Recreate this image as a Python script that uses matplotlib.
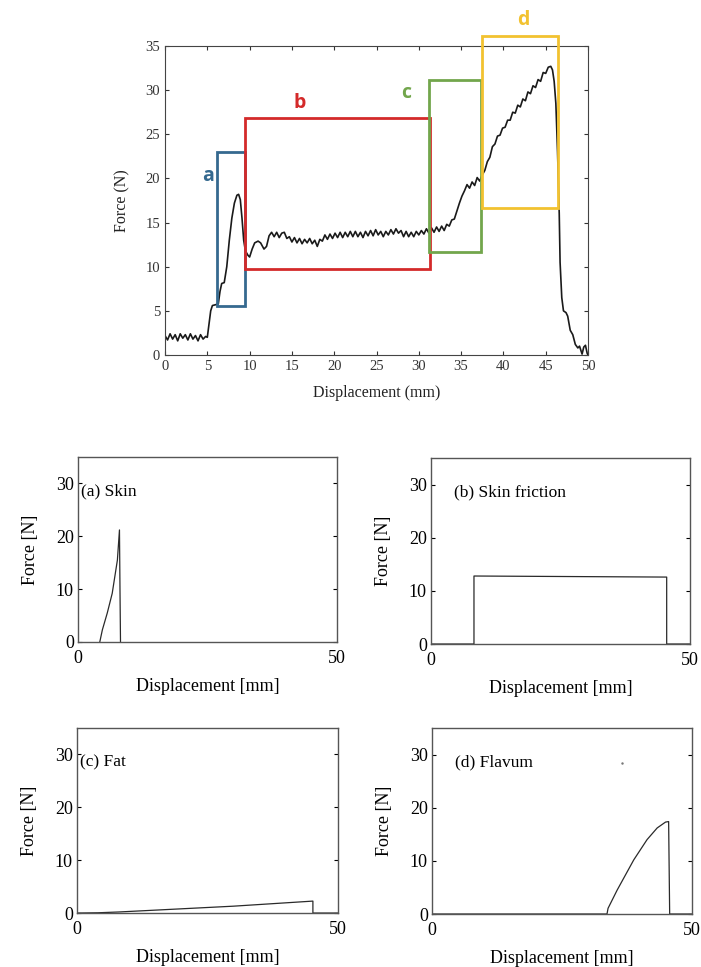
import matplotlib.pyplot as plt
from matplotlib.patches import Rectangle

plt.rcParams['font.family'] = ['Liberation Serif', 'DejaVu Serif']

# curva completa (arriba)
desp = [0, 0.3, 0.6, 0.9, 1.2, 1.5, 1.8, 2.1, 2.4, 2.7, 3.0, 3.3, 3.6, 3.9, 4.2, 4.5, 4.8,
        5.0, 5.2, 5.4, 5.6, 6.0, 6.3, 6.5, 6.7, 7.0, 7.3, 7.6, 7.9, 8.2, 8.5, 8.7, 8.9,
        9.1, 9.3, 9.5, 9.8, 10.0, 10.3, 10.6, 11.0, 11.3, 11.7, 12.0, 12.3, 12.6, 12.9,
        13.2, 13.5, 13.8, 14.1, 14.4, 14.7, 15.0, 15.3, 15.6, 15.9, 16.2, 16.5, 16.8,
        17.1, 17.4, 17.7, 18.0, 18.3, 18.6, 18.9, 19.2, 19.5, 19.8, 20.1, 20.4, 20.7,
        21.0, 21.3, 21.6, 21.9, 22.2, 22.5, 22.8, 23.1, 23.4, 23.7, 24.0, 24.3, 24.6,
        24.9, 25.2, 25.5, 25.8, 26.1, 26.4, 26.7, 27.0, 27.3, 27.6, 27.9, 28.2, 28.5,
        28.8, 29.1, 29.4, 29.7, 30.0, 30.3, 30.6, 30.9, 31.2, 31.5, 31.8, 32.1, 32.4,
        32.7, 33.0, 33.3, 33.6, 33.9, 34.2, 34.5, 34.8, 35.1, 35.4, 35.7, 36.0, 36.3,
        36.6, 36.9, 37.2, 37.5, 37.8, 38.1, 38.4, 38.7, 39.0, 39.3, 39.6, 39.9, 40.2,
        40.5, 40.8, 41.1, 41.4, 41.7, 42.0, 42.3, 42.6, 42.9, 43.2, 43.5, 43.8, 44.1,
        44.4, 44.7, 45.0, 45.3, 45.6, 45.8, 46.0, 46.2, 46.4, 46.6, 46.7, 46.9, 47.1,
        47.4, 47.6, 47.9, 48.2, 48.5, 48.8, 49.0, 49.3, 49.5, 49.7, 49.9, 50.0]
fuerza = [2.2, 1.7, 2.4, 1.8, 2.3, 1.6, 2.4, 1.9, 2.3, 1.7, 2.4, 1.8, 2.2, 1.6, 2.3, 1.8, 2.1,
          2.0, 3.5, 5.0, 5.6, 5.7, 5.8, 7.2, 8.1, 8.2, 10.0, 13.0, 15.5, 17.2, 18.1, 18.2, 17.6,
          15.5, 13.0, 11.8, 11.3, 11.1, 12.0, 12.7, 12.9, 12.7, 12.0, 12.3, 13.5, 13.9, 13.4,
          13.9, 13.3, 13.8, 13.9, 13.2, 13.4, 12.8, 13.3, 12.7, 13.2, 12.6, 13.1, 12.7,
          13.2, 12.6, 13.0, 12.3, 13.1, 12.9, 13.6, 13.1, 13.7, 13.2, 13.8, 13.3, 13.9,
          13.3, 13.9, 13.4, 14.0, 13.4, 14.0, 13.4, 13.9, 13.3, 14.0, 13.5, 14.1, 13.5,
          14.2, 13.6, 14.0, 13.4, 14.0, 13.6, 14.2, 13.7, 14.3, 13.8, 14.1, 13.4, 14.0,
          13.4, 13.9, 13.4, 14.0, 13.6, 14.1, 13.7, 14.3, 13.8, 14.4, 13.9, 14.5, 14.0,
          14.6, 14.1, 14.8, 14.6, 15.3, 15.4, 16.3, 17.2, 18.0, 18.6, 19.3, 18.9, 19.6,
          19.2, 20.1, 19.7, 20.4, 20.9, 21.9, 22.4, 23.6, 23.9, 24.8, 24.9, 25.7, 25.8,
          26.6, 26.6, 27.5, 27.4, 28.3, 28.1, 29.0, 28.8, 29.8, 29.6, 30.5, 30.3, 31.2,
          31.0, 32.0, 31.9, 32.6, 32.7, 32.3, 31.0, 28.5, 23.0, 16.0, 10.5, 6.5, 5.0,
          4.8, 4.4, 2.8, 2.3, 1.2, 0.8, 1.0, 0.1, 0.9, 1.1, 0.2, 0.0]

# cajas: etiqueta, x0, x1, y0, y1, color
cajas = [('a', 6.2, 9.4, 5.6, 23.0, '#35698f'),
         ('b', 9.4, 31.3, 9.7, 26.9, '#d42a2a'),
         ('c', 31.2, 37.35, 11.7, 31.2, '#72a64c'),
         ('d', 37.5, 46.4, 16.6, 36.1, '#f2c230')]
pos_etiquetas = {'a': (5.1, 20.3), 'b': (15.9, 28.5), 'c': (28.5, 29.7), 'd': (42.3, 38.0)}

# paneles de abajo
skin_x = [4.2, 4.7, 5.65, 6.6, 7.6, 8.0, 8.1, 8.2]
skin_y = [0, 2.3, 5.5, 9.2, 15.5, 21.2, 10.0, 0]
fric_x = [0, 8.3, 8.3, 45.5, 45.5, 50]
fric_y = [0, 0, 12.8, 12.6, 0, 0]
fat_x = [0, 4.0, 8.0, 20.0, 30.0, 45.2, 45.2, 50]
fat_y = [0, 0.05, 0.2, 0.8, 1.3, 2.26, 0, 0]
flav_x = [0, 33.65, 33.85, 35.6, 38.8, 41.35, 43.3, 44.9, 45.5, 45.7, 50]
flav_y = [0, 0, 1.07, 4.5, 10.2, 14.0, 16.2, 17.3, 17.4, 0, 0]

paneles = [('(a) Skin', skin_x, skin_y, 0.6, [0.1113, 0.3361, 0.3695, 0.1913]),
           ('(b) Skin friction', fric_x, fric_y, 4.5, [0.6148, 0.3340, 0.3695, 0.1923]),
           ('(c) Fat', fat_x, fat_y, 0.6, [0.1098, 0.0558, 0.3723, 0.1913]),
           ('(d) Flavum', flav_x, flav_y, 4.5, [0.6163, 0.0548, 0.3709, 0.1923])]

fig = plt.figure(figsize=(7.01, 9.67), dpi=100)

# grafico principal
ax = fig.add_axes([0.2354, 0.6329, 0.6034, 0.3195])
ax.plot(desp, fuerza, color='#1a1a1a', lw=1.2)
ax.set_xlim(0, 50)
ax.set_ylim(0, 35)
ax.set_xticks(range(0, 51, 5))
ax.set_yticks(range(0, 36, 5))
ax.tick_params(direction='in', top=True, right=True, labelsize=10.5, length=3, colors='#333333')
for s in ax.spines.values():
    s.set_color('#444444')
ax.set_xlabel('Displacement (mm)', fontsize=11.5, color='#222222', labelpad=9)
ax.set_ylabel('Force (N)', fontsize=11.5, color='#222222', labelpad=11)

for nombre, x0, x1, y0, y1, col in cajas:
    ax.add_patch(Rectangle((x0, y0), x1 - x0, y1 - y0, fill=False, ec=col, lw=2.0,
                           clip_on=False, zorder=3))
    tx, ty = pos_etiquetas[nombre]
    ax.text(tx, ty, nombre, color=col, fontsize=14, fontweight='bold',
            family=['Open Sans', 'DejaVu Sans'], ha='center', va='center', clip_on=False)

# los cuatro paneles
for titulo, xs, ys, tx, rect in paneles:
    a = fig.add_axes(rect)
    a.plot(xs, ys, color='#2a2a2a', lw=0.9)
    a.set_xlim(0, 50)
    a.set_ylim(0, 35)
    a.set_xticks([0, 50])
    a.set_yticks([0, 10, 20, 30])
    a.tick_params(axis='x', length=0, pad=6, labelsize=13)
    a.tick_params(axis='y', direction='in', right=True, length=3, labelsize=13, pad=3)
    for s in a.spines.values():
        s.set_color('#555555')
        s.set_linewidth(1.0)
    a.set_ylabel('Force [N]', fontsize=13, labelpad=12)
    a.set_xlabel('Displacement [mm]', fontsize=13, labelpad=8)
    a.text(tx, 28.5, titulo, fontsize=12.5, va='center', ha='left')
    if titulo.startswith('(d)'):
        a.plot([36.5], [28.4], marker='.', ms=1.5, color='#777777')

fig.savefig('out.png', dpi=100)
